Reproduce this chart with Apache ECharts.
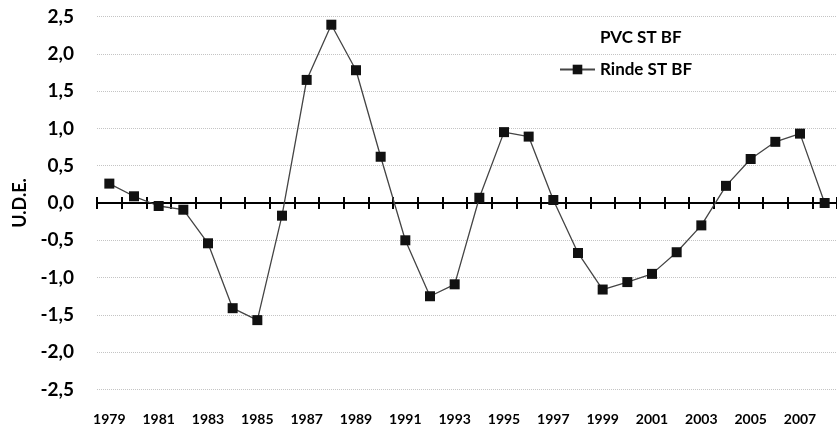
<!DOCTYPE html>
<html>
<head>
<meta charset="utf-8">
<script src="https://cdn.jsdelivr.net/npm/echarts@6/dist/echarts.min.js"></script>
<style>
html,body{margin:0;padding:0;background:#fff;}
#chart{width:837px;height:427px;}
</style>
</head>
<body>
<div id="chart"></div>
<script>
// Campaign years
const years = ['1979','1980','1981','1982','1983','1984','1985','1986','1987','1988',
  '1989','1990','1991','1992','1993','1994','1995','1996','1997','1998',
  '1999','2000','2001','2002','2003','2004','2005','2006','2007','2008'];

// Standardised yield (U.D.E.)
const rindeST = [0.26, 0.09, -0.04, -0.09, -0.54, -1.41, -1.57, -0.17, 1.65, 2.39,
  1.78, 0.62, -0.50, -1.25, -1.09, 0.07, 0.95, 0.89, 0.04, -0.67,
  -1.16, -1.06, -0.95, -0.66, -0.30, 0.23, 0.59, 0.82, 0.93, 0.00];

// PVC series has no plotted values
const pvcST = [];

const yMin = -2.5, yMax = 2.5, yStep = 0.5;

const fontFam = 'Lato, "Open Sans", sans-serif';
const chart = echarts.init(document.getElementById('chart'), null, {renderer: 'canvas'});

const fmtComma = v => v.toFixed(1).replace('.', ',');

// Main plot area, plus two helper grids split at the zero value:
// the upper one carries the zero line with downward ticks,
// the lower one carries the upward ticks.
const plotTop = 16.5, plotBottom = 37.5, chartH = 427;
const zeroY = plotTop + (chartH - plotTop - plotBottom) * (yMax / (yMax - yMin));

const tickStyle = {color: '#000', width: 2};

chart.setOption({
  animation: false,
  backgroundColor: '#fff',
  grid: [
    {left: 97, right: 0, top: plotTop, bottom: plotBottom},
    {left: 97, right: 0, top: plotTop, bottom: chartH - zeroY},
    {left: 97, right: 0, top: zeroY, bottom: plotBottom}
  ],
  legend: {
    orient: 'vertical',
    left: 554,
    top: 24,
    itemWidth: 35,
    itemHeight: 12,
    itemGap: 15,
    textStyle: {fontFamily: fontFam, fontWeight: 'bold', fontSize: 17, color: '#000'},
    data: [
      {name: 'PVC ST BF', icon: 'none'},
      {name: 'Rinde ST BF'}
    ]
  },
  xAxis: [
    { // year labels along the bottom edge
      type: 'category', data: years, gridIndex: 0, position: 'bottom',
      axisLine: {show: false, onZero: false}, axisTick: {show: false},
      axisLabel: {interval: 1, margin: 23, color: '#000', fontFamily: fontFam, fontWeight: 'bold', fontSize: 14}
    },
    { // zero line with ticks below it
      type: 'category', data: years, gridIndex: 1, position: 'bottom',
      axisLine: {show: true, onZero: false, lineStyle: {color: '#000', width: 2}},
      axisTick: {show: true, interval: 0, inside: false, length: 6, lineStyle: tickStyle},
      axisLabel: {show: false, interval: 0}
    },
    { // ticks above the zero line
      type: 'category', data: years, gridIndex: 2, position: 'top',
      axisLine: {show: false, onZero: false},
      axisTick: {show: true, interval: 0, inside: false, length: 6, lineStyle: tickStyle},
      axisLabel: {show: false, interval: 0}
    }
  ],
  yAxis: [
    {
      type: 'value', gridIndex: 0, min: yMin, max: yMax, interval: yStep,
      name: 'U.D.E.', nameLocation: 'middle', nameGap: 66, nameRotate: 90,
      nameTextStyle: {fontFamily: fontFam, fontWeight: 'bold', fontSize: 18, color: '#000'},
      axisLine: {show: false}, axisTick: {show: false},
      axisLabel: {margin: 23, color: '#000', fontFamily: fontFam, fontWeight: 'bold', fontSize: 19, formatter: fmtComma},
      splitLine: {show: true, lineStyle: {color: '#c4c4c4', type: 'dotted', width: 1}}
    },
    {type: 'value', gridIndex: 1, min: 0, max: yMax, show: false},
    {type: 'value', gridIndex: 2, min: yMin, max: 0, show: false}
  ],
  series: [
    {
      name: 'PVC ST BF', type: 'line', data: pvcST, symbol: 'none',
      lineStyle: {width: 0}
    },
    {
      name: 'Rinde ST BF', type: 'line', data: rindeST,
      xAxisIndex: 0, yAxisIndex: 0,
      symbol: 'rect', symbolSize: 10,
      itemStyle: {color: '#111'},
      lineStyle: {color: '#444', width: 1.3},
      z: 5
    }
  ]
});
</script>
</body>
</html>
